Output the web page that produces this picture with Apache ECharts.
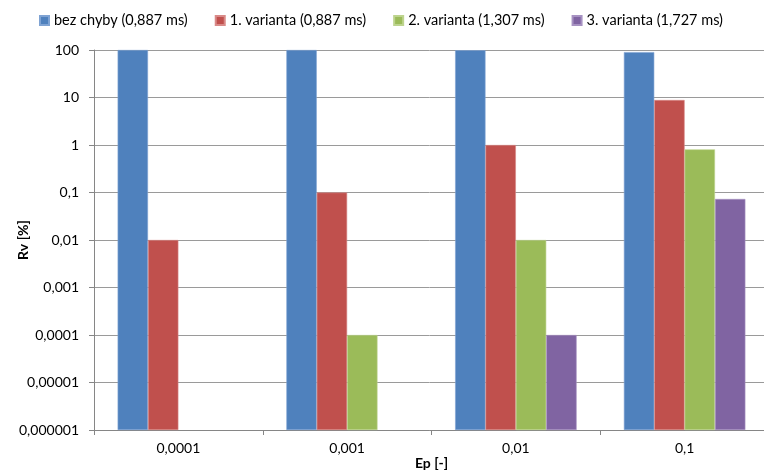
<!DOCTYPE html>
<html>
<head>
<meta charset="utf-8">
<script src="https://cdn.jsdelivr.net/npm/echarts@6/dist/echarts.min.js"></script>
<style>html,body{margin:0;padding:0;background:#fff}#c{width:764px;height:475px}</style>
</head>
<body>
<div id="c"></div>
<script>
var categories = ['0,0001', '0,001', '0,01', '0,1'];
var seriesNames = ['bez chyby (0,887 ms)', '1. varianta (0,887 ms)', '2. varianta (1,307 ms)', '3. varianta (1,727 ms)'];
var bezChyby = [99.99, 99.9, 98.99, 90.3];
var varianta1 = [0.01, 0.1, 1, 8.86];
var varianta2 = [null, 0.0001, 0.01, 0.81];
var varianta3 = [null, null, 0.0001, 0.073];
var yTickLabels = ['0,000001', '0,00001', '0,0001', '0,001', '0,01', '0,1', '1', '10', '100'];
var colors = ['#4F81BD', '#C0504D', '#9BBB59', '#8064A2'];
var borders = ['#7fa3d3', '#d98a88', '#bdd48e', '#a792c2'];

// log10 scale, shifted so that the axis minimum (1e-6) is 0 and bars grow from it
var LOG_MIN = -6;
function toLog(v) { return v == null ? null : Math.log10(v) - LOG_MIN; }

var font = 'Lato, sans-serif';
var chart = echarts.init(document.getElementById('c'));
var values = [bezChyby, varianta1, varianta2, varianta3];
chart.setOption({
  animation: false,
  textStyle: {fontFamily: font},
  legend: {
    top: 8,
    left: 34,
    icon: 'rect',
    itemWidth: 9,
    itemHeight: 9,
    itemGap: 27,
    textStyle: {fontFamily: font, fontSize: 14.5, color: '#000'},
    data: seriesNames
  },
  grid: {left: 94, top: 50, width: 675, height: 380, containLabel: false, outerBoundsMode: 'none'},
  xAxis: {
    type: 'category',
    data: categories,
    name: 'Ep [-]',
    nameLocation: 'middle',
    nameGap: 26,
    nameMoveOverlap: false,
    nameTextStyle: {fontFamily: font, fontSize: 14, fontWeight: 'bold', color: '#000'},
    axisLine: {lineStyle: {color: '#868686', width: 1}},
    axisTick: {show: true, length: 5, alignWithLabel: false, lineStyle: {color: '#868686'}},
    axisLabel: {fontFamily: font, fontSize: 14, color: '#000', margin: 11},
    splitLine: {show: false}
  },
  yAxis: {
    type: 'value',
    min: 0,
    max: yTickLabels.length - 1,
    interval: 1,
    name: 'Rv [%]',
    nameLocation: 'middle',
    nameGap: 64,
    nameMoveOverlap: false,
    nameRotate: 90,
    nameTextStyle: {fontFamily: font, fontSize: 14, fontWeight: 'bold', color: '#000'},
    axisLine: {show: true, lineStyle: {color: '#868686', width: 1}},
    axisTick: {show: true, length: 5, lineStyle: {color: '#868686'}},
    axisLabel: {
      fontFamily: font, fontSize: 14, color: '#000', margin: 15,
      formatter: function (v) { return yTickLabels[Math.round(v)] || ''; }
    },
    splitLine: {show: true, lineStyle: {color: '#9a9a9a', width: 1}}
  },
  series: values.map(function (d, i) {
    return {
      name: seriesNames[i],
      type: 'bar',
      data: d.map(toLog),
      barGap: '0%',
      barCategoryGap: '28%',
      itemStyle: {color: colors[i], borderColor: borders[i], borderWidth: 0.6}
    };
  })
});
</script>
</body>
</html>
